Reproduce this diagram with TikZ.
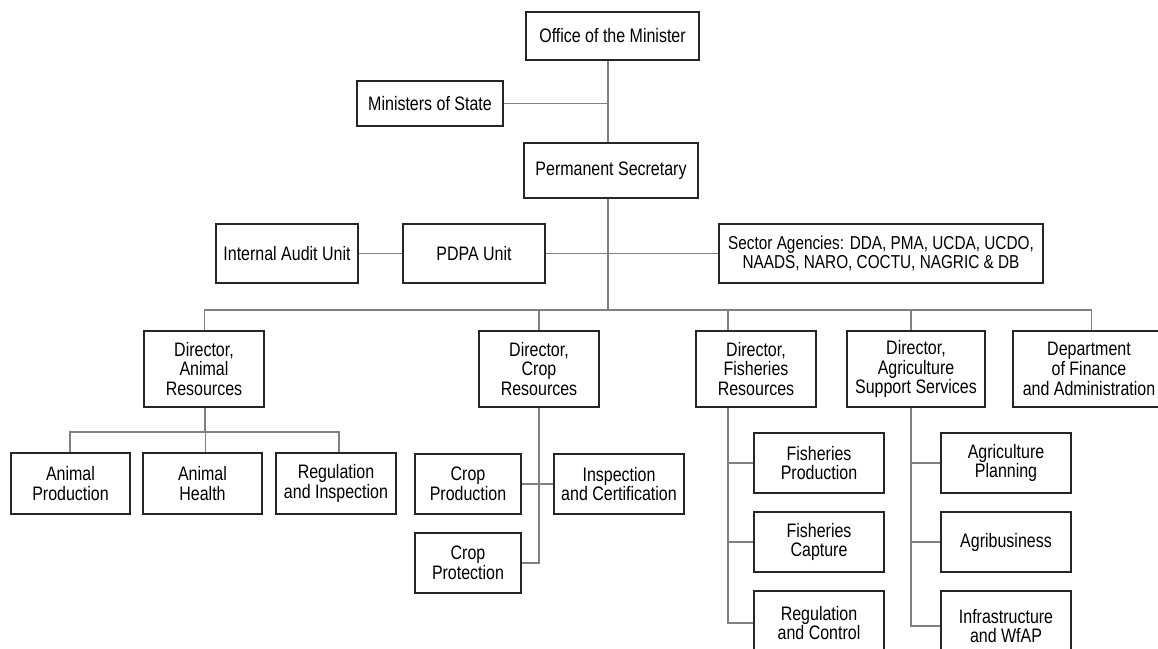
\documentclass[tikz,border=0pt]{standalone}
\usepackage{fontspec}
\setmainfont[FakeStretch=0.82]{Liberation Sans}
\begin{document}
\begin{tikzpicture}[x=1pt,y=-1pt,
  box/.style={draw=black!85, line width=1.1pt, fill=white, align=center, inner sep=0pt,
    font=\fontsize{19.5}{19.7}\selectfont, text=black},
  link/.style={draw=black!50, line width=1.1pt}]
\useasboundingbox (0,0) rectangle (1158,648);
% top
\node[box, minimum width=173pt, minimum height=48pt] (office) at (612.5,36) {Office of the Minister};
\node[box, minimum width=146pt, minimum height=45pt] (minstate) at (430,103.5) {Ministers of State};
\node[box, minimum width=174pt, minimum height=55pt] (permsec) at (611,170.5) {Permanent Secretary};
\node[box, minimum width=142pt, minimum height=59pt] (audit) at (287,253.5) {Internal Audit Unit};
\node[box, minimum width=142pt, minimum height=59pt] (pdpa) at (474,253.5) {PDPA Unit};
\node[box, minimum width=324pt, minimum height=59pt, font=\fontsize{18.7}{19.7}\selectfont] (sector) at (881,253.5) {Sector Agencies: DDA, PMA, UCDA, UCDO,\\NAADS, NARO, COCTU, NAGRIC \& DB};
% directors
\node[box, minimum width=120pt, minimum height=76pt] (dAnimal) at (204,369) {Director,\\Animal\\Resources};
\node[box, minimum width=120pt, minimum height=76pt] (dCrop) at (539,369) {Director,\\Crop\\Resources};
\node[box, minimum width=120pt, minimum height=76pt] (dFish) at (756,369) {Director,\\Fisheries\\Resources};
\node[box, minimum width=138pt, minimum height=76pt] (dAgri) at (916,369) {Director,\\Agriculture\\Support Services};
\node[box, minimum width=152pt, minimum height=76pt] (dept) at (1089,369) {Department\\of Finance\\and Administration};
% animal
\node[box, minimum width=119pt, minimum height=61pt] (aProd) at (70.5,483.5) {Animal\\Production};
\node[box, minimum width=119pt, minimum height=61pt] (aHealth) at (202.5,483.5) {Animal\\Health};
\node[box, minimum width=120pt, minimum height=61pt] (aReg) at (336,483.5) {Regulation\\and Inspection};
% crop
\node[box, minimum width=106pt, minimum height=60pt] (cProd) at (468,484) {Crop\\Production};
\node[box, minimum width=130pt, minimum height=60pt] (cInsp) at (619,484) {Inspection\\and Certification};
\node[box, minimum width=106pt, minimum height=60pt] (cProt) at (468,563) {Crop\\Protection};
% fisheries
\node[box, minimum width=130pt, minimum height=60pt] (fProd) at (819,463) {Fisheries\\Production};
\node[box, minimum width=130pt, minimum height=60pt] (fCap) at (819,542) {Fisheries\\Capture};
\node[box, minimum width=130pt, minimum height=64pt] (fReg) at (819,623) {Regulation\\and Control};
% agri
\node[box, minimum width=130pt, minimum height=60pt] (gPlan) at (1006,463) {Agriculture\\Planning};
\node[box, minimum width=130pt, minimum height=60pt] (gBiz) at (1006,542) {Agribusiness};
\node[box, minimum width=130pt, minimum height=70pt] (gInf) at (1006,626) {Infrastructure\\and WfAP};
% coordinates
\coordinate (trunk) at (608,0);
\coordinate (busL) at (204.5,310);
\coordinate (busR) at (1091.5,310);
\coordinate (aBusL) at (70,432);
\coordinate (aBusR) at (339,432);
% links
\draw[link] (office.south -| trunk) -- (permsec.north -| trunk);
\draw[link] (minstate.east) -- (minstate.east -| trunk);
\draw[link] (permsec.south -| trunk) -- (busL -| trunk);
\draw[link] (audit.east) -- (pdpa.west);
\draw[link] (pdpa.east) -- (pdpa.east -| trunk);
\draw[link] (sector.west) -- (sector.west -| trunk);
\draw[link] (dAnimal.north -| busL) -- (busL) -- (busR) -- (dept.north -| busR);
\draw[link] (dCrop.north) -- (dCrop.north |- busL);
\draw[link] ([xshift=-28pt]dFish.north) -- ([xshift=-28pt]dFish.north |- busL);
\draw[link] ([xshift=-5pt]dAgri.north) -- ([xshift=-5pt]dAgri.north |- busL);
% animal
\draw[link] ([xshift=1pt]dAnimal.south) -- ([xshift=1pt]dAnimal.south |- aBusL);
\draw[link] (aProd.north -| aBusL) -- (aBusL) -- (aBusR) -- (aReg.north -| aBusR);
\draw[link] ([xshift=3pt]aHealth.north) -- ([xshift=3pt]aHealth.north |- aBusL);
% crop
\draw[link] (dCrop.south) -- (dCrop.south |- cProt.east) -- (cProt.east);
\draw[link] (cProd.east) -- (cInsp.west);
% fish
\coordinate (fTr) at (728,0);
\draw[link] (dFish.south -| fTr) -- (fReg.west -| fTr) -- (fReg.west);
\draw[link] (fProd.west -| fTr) -- (fProd.west);
\draw[link] (fCap.west -| fTr) -- (fCap.west);
% agri
\coordinate (gTr) at (911,0);
\draw[link] (dAgri.south -| gTr) -- (gInf.west -| gTr) -- (gInf.west);
\draw[link] (gPlan.west -| gTr) -- (gPlan.west);
\draw[link] (gBiz.west -| gTr) -- (gBiz.west);
\end{tikzpicture}
\end{document}
